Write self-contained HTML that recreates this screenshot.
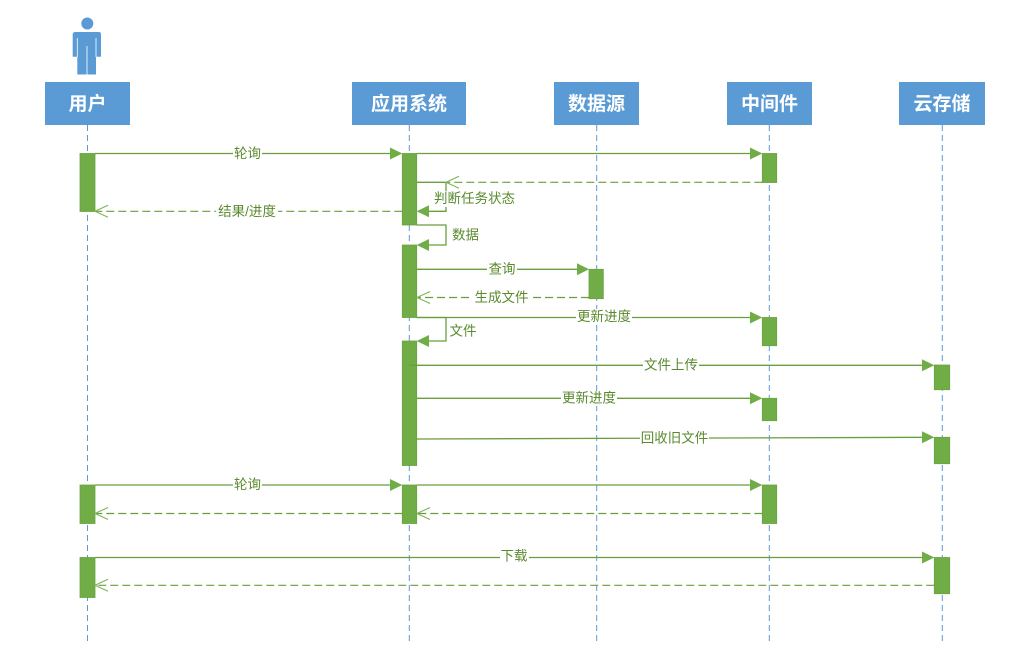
<!DOCTYPE html>
<html><head><meta charset="utf-8"><style>
html,body{margin:0;padding:0;background:#fff;}
svg{display:block;}
.lbl{font-family:"Liberation Sans","Noto Sans CJK SC",sans-serif;font-size:13.5px;fill:#5a8a2e;}
.hdr{font-family:"Liberation Sans","Noto Sans CJK SC",sans-serif;font-size:19px;font-weight:bold;fill:#fff;}
</style></head><body>
<svg width="1035" height="665" viewBox="0 0 1035 665" xmlns="http://www.w3.org/2000/svg">
<rect width="1035" height="665" fill="#fff"/>
<!-- actor -->
<g fill="#5b9bd5">
<circle cx="87.3" cy="23.5" r="6"/>
<path d="M75.5 32 H99 Q101 32 101 34.5 V56.7 H72.7 V34.5 Q72.7 32 75.5 32 Z"/>
<rect x="77.3" y="45" width="18.7" height="29.5"/>
</g>
<g stroke="#fff" stroke-width="0.8">
<line x1="77.3" y1="38" x2="77.3" y2="57"/>
<line x1="96" y1="38" x2="96" y2="57"/>
<line x1="87" y1="46" x2="87" y2="75"/>
</g>
<!-- header boxes -->
<g fill="#5b9bd5">
<rect x="45" y="82" width="85" height="43"/>
<rect x="352" y="82" width="114" height="43"/>
<rect x="554" y="82" width="85" height="43"/>
<rect x="727" y="82" width="85" height="43"/>
<rect x="899" y="82" width="86" height="43"/>
</g>
<g class="hdr" text-anchor="middle">
<text x="87.5" y="110">用户</text>
<text x="409" y="110">应用系统</text>
<text x="596.5" y="110">数据源</text>
<text x="769.5" y="110">中间件</text>
<text x="942" y="110">云存储</text>
</g>
<!-- lifelines -->
<g stroke="#5b9bd5" stroke-width="1" stroke-dasharray="6,4">
<line x1="87.5" y1="125" x2="87.5" y2="643"/>
<line x1="409.3" y1="125" x2="409.3" y2="643"/>
<line x1="596.7" y1="125" x2="596.7" y2="643"/>
<line x1="769.3" y1="125" x2="769.3" y2="643"/>
<line x1="942.3" y1="125" x2="942.3" y2="643"/>
</g>
<!-- activation bars -->
<g fill="#70ad47" stroke="#6aa23f" stroke-width="0.8">
<rect x="80" y="153.5" width="15" height="58"/>
<rect x="80" y="485" width="15" height="38.5"/>
<rect x="80" y="557.5" width="15" height="40"/>
<rect x="402.3" y="153.5" width="14.4" height="71.5"/>
<rect x="402.3" y="245" width="14.4" height="72.5"/>
<rect x="402.3" y="341" width="14.4" height="124.5"/>
<rect x="402.3" y="485" width="14.4" height="38.5"/>
<rect x="589" y="269.3" width="14.3" height="29.4"/>
<rect x="762.3" y="153.5" width="14.4" height="29"/>
<rect x="762.3" y="317.5" width="14.4" height="28.2"/>
<rect x="762.3" y="398.3" width="14.4" height="22.4"/>
<rect x="762.3" y="485" width="14.4" height="38.5"/>
<rect x="934.3" y="365" width="15.4" height="24.7"/>
<rect x="934.3" y="437.3" width="15.4" height="26.4"/>
<rect x="934.3" y="557.5" width="15.4" height="36.2"/>
</g>
<!-- solid messages -->
<g stroke="#6a9e3c" stroke-width="1.3" fill="none">
<line x1="95" y1="153.5" x2="392" y2="153.5"/>
<line x1="416.7" y1="153.5" x2="752" y2="153.5"/>
<polyline points="416.7,182.3 446,182.3 446,211.3 426,211.3"/>
<polyline points="416.7,225 446,225 446,245 426,245"/>
<line x1="416.7" y1="269.3" x2="579" y2="269.3"/>
<line x1="416.7" y1="317.5" x2="752" y2="317.5"/>
<polyline points="416.7,317.5 446,317.5 446,341 426,341"/>
<line x1="409.3" y1="365.3" x2="924" y2="365.3"/>
<line x1="416.7" y1="398.3" x2="752" y2="398.3"/>
<line x1="416.7" y1="439" x2="924" y2="437.3"/>
<line x1="95" y1="485" x2="392" y2="485"/>
<line x1="416.7" y1="485" x2="752" y2="485"/>
<line x1="95" y1="557.5" x2="924" y2="557.5"/>
</g>
<!-- filled arrowheads -->
<g fill="#70ad47">
<polygon points="402.3,153.5 390,147.5 390,159.5"/>
<polygon points="762.3,153.5 750,147.5 750,159.5"/>
<polygon points="416.7,211.3 429,205.3 429,217.3"/>
<polygon points="416.7,245 429,239 429,251"/>
<polygon points="589,269.3 577,263.3 577,275.3"/>
<polygon points="762.3,317.5 750,311.5 750,323.5"/>
<polygon points="416.7,341 429,335 429,347"/>
<polygon points="934.3,365.3 922,359.3 922,371.3"/>
<polygon points="762.3,398.3 750,392.3 750,404.3"/>
<polygon points="934.3,437.3 922,431.3 922,443.3"/>
<polygon points="402.3,485 390,479 390,491"/>
<polygon points="762.3,485 750,479 750,491"/>
<polygon points="934.3,557.5 922,551.5 922,563.5"/>
</g>
<!-- dashed returns -->
<g stroke="#6a9e3c" stroke-width="1.2" stroke-dasharray="8,4" fill="none">
<line x1="762.3" y1="182.3" x2="447" y2="182.3"/>
<line x1="402.3" y1="211.3" x2="96" y2="211.3"/>
<line x1="589" y1="297.5" x2="418" y2="297.5"/>
<line x1="762.3" y1="513.5" x2="418" y2="513.5"/>
<line x1="402.3" y1="513.5" x2="96" y2="513.5"/>
<line x1="934.3" y1="585.3" x2="96" y2="585.3"/>
</g>
<g stroke="#7cb657" stroke-width="1.1" fill="none">
<polyline points="459,176.3 446,182.3 459,188.3"/>
<polyline points="108,205.3 95,211.3 108,217.3"/>
<polyline points="430,291.5 417,297.5 430,303.5"/>
<polyline points="430,507.5 417,513.5 430,519.5"/>
<polyline points="108,507.5 95,513.5 108,519.5"/>
<polyline points="108,579.3 95,585.3 108,591.3"/>
</g>
<!-- label backgrounds -->
<g fill="#fff">
<rect x="233" y="146" width="29" height="15"/>
<rect x="216" y="204" width="62" height="15"/>
<rect x="433" y="191" width="84" height="16"/>
<rect x="487" y="262" width="30" height="15"/>
<rect x="473" y="290" width="57" height="15"/>
<rect x="576" y="309" width="56" height="15"/>
<rect x="643" y="358" width="56" height="15"/>
<rect x="561" y="391" width="56" height="15"/>
<rect x="640" y="430" width="69" height="15"/>
<rect x="233" y="477" width="29" height="15"/>
<rect x="500" y="549" width="29" height="15"/>
</g>
<g class="lbl">
<text x="247.5" y="153.5" text-anchor="middle" dominant-baseline="central">轮询</text>
<text x="247" y="211.3" text-anchor="middle" dominant-baseline="central">结果/进度</text>
<text x="434" y="198.5" dominant-baseline="central">判断任务状态</text>
<text x="452" y="235" dominant-baseline="central">数据</text>
<text x="502" y="269" text-anchor="middle" dominant-baseline="central">查询</text>
<text x="501.5" y="297.5" text-anchor="middle" dominant-baseline="central">生成文件</text>
<text x="604" y="316.5" text-anchor="middle" dominant-baseline="central">更新进度</text>
<text x="449.5" y="331" dominant-baseline="central">文件</text>
<text x="671" y="365" text-anchor="middle" dominant-baseline="central">文件上传</text>
<text x="589" y="398" text-anchor="middle" dominant-baseline="central">更新进度</text>
<text x="674.5" y="437.8" text-anchor="middle" dominant-baseline="central">回收旧文件</text>
<text x="247.5" y="484.5" text-anchor="middle" dominant-baseline="central">轮询</text>
<text x="514" y="556" text-anchor="middle" dominant-baseline="central">下载</text>
</g>
</svg>
</body></html>
